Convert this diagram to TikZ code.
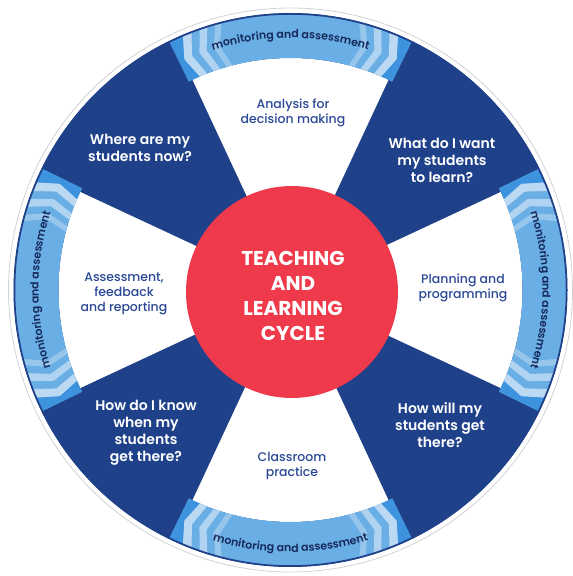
\documentclass[tikz,border=0pt]{standalone}
\usepackage{fontspec}
\setmainfont{Poppins}
\newfontfamily\popmed{Poppins Medium}
\newfontfamily\popsemi{Poppins SemiBold}
\usetikzlibrary{decorations.text}
\definecolor{navy}{HTML}{1F418A}
\definecolor{band}{HTML}{6AAEE6}
\definecolor{bandend}{HTML}{3D93DE}
\definecolor{pale}{HTML}{BCD9F3}
\definecolor{redc}{HTML}{EE3A4A}
\definecolor{wtext}{HTML}{2A4895}
\definecolor{ringtext}{HTML}{16295A}
\newcommand\ringfont{\popsemi\fontsize{11}{13}\selectfont\color{ringtext}}
\begin{document}
\begin{tikzpicture}[x=1pt,y=1pt,
  qtext/.style={text=white, font=\popsemi\fontsize{14}{17}\selectfont, align=center},
  stext/.style={text=wtext, font=\popmed\fontsize{12.5}{15}\selectfont, align=center},
  ctext/.style={text=white, font=\fontsize{20}{25}\selectfont\bfseries, align=center},
  ringlabel/.style={decorate, decoration={text along path, text={|\ringfont|monitoring and assessment}, text align=center}}]
\useasboundingbox (0,0) rectangle (573,576);
\begin{scope}[shift={(290.5,286)}]
  \draw[gray!35, line width=0.8] (0,0) circle[radius=282];
  \fill[navy] (0,0) circle[radius=277];
  \foreach \c in {0,90,180,270} {
    \fill[white] (0,0) -- (\c-25:232) arc[start angle=\c-25, end angle=\c+25, radius=232] -- cycle;
    \begin{scope}
      \clip (\c-26:232) arc[start angle=\c-26, end angle=\c+26, radius=232]
        -- (\c+26:276) arc[start angle=\c+26, end angle=\c-26, radius=276] -- cycle;
      \fill[band] (0,0) circle[radius=280];
      \foreach \s in {1,-1} {
        \pgfmathsetmacro\e{\c+\s*26}
        \foreach \aa/\bb/\col in {-6/1.3/bandend, 1.3/3.2/pale, 5.0/6.7/pale!85!band, 8.4/9.8/pale!55!band} {
          \fill[\col] ({\e-\s*(\aa+2.2)}:226) -- ({\e-\s*\aa}:254) -- ({\e-\s*(\aa+2.2)}:282)
            -- ({\e-\s*(\bb+2.2)}:282) -- ({\e-\s*\bb}:254) -- ({\e-\s*(\bb+2.2)}:226) -- cycle;
        }
      }
    \end{scope}
  }
  \draw[navy, line width=1.5] (0,0) circle[radius=276];
  \path[ringlabel] (115:252) arc[start angle=115, end angle=65, radius=252];
  \path[ringlabel] (25:252) arc[start angle=25, end angle=-25, radius=252];
  \path[ringlabel] (245:262) arc[start angle=245, end angle=295, radius=262];
  \path[ringlabel] (205:252) arc[start angle=205, end angle=155, radius=252];
  \fill[redc] (1.5,-2) circle[radius=106];
\end{scope}
\node[qtext] (q1) at (140, 428) {Where are my\\students now?};
\node[qtext] (q2) at (442, 416) {What do I want\\my students\\to learn?};
\node[qtext] (q3) at (440, 151) {How will my\\students get\\there?};
\node[qtext] (q4) at (146, 143) {How do I know\\when my\\students\\get there?};
\node[stext] (s1) at (293, 463) {Analysis for\\decision making};
\node[stext] (s2) at (463, 288) {Planning and\\programming};
\node[stext] (s3) at (292, 110) {Classroom\\practice};
\node[stext] (s4) at (124, 282) {Assessment,\\feedback\\and reporting};
\node[ctext] (cc) at (293, 280) {TEACHING\\AND\\LEARNING\\CYCLE};
\end{tikzpicture}
\end{document}
